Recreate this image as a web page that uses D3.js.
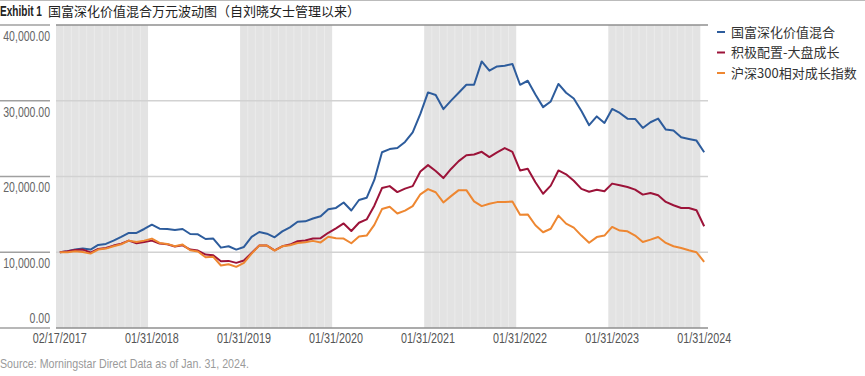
<!DOCTYPE html>
<html>
<head>
<meta charset="utf-8">
<script src="https://cdn.jsdelivr.net/npm/d3@7"></script>
<style>
  body { margin: 0; background: #fff; }
  svg { display: block; }
  text { font-family: "Liberation Sans", Arial, "Noto Sans CJK SC", sans-serif; }
</style>
</head>
<body>
<svg width="865" height="376"></svg>
<script>
const width = 865;
const height = 376;

// Dates: start date, then month ends Feb 2017 .. Jan 2024
const dates = [new Date(2017, 1, 17)].concat(
  d3.timeMonth.range(new Date(2017, 1, 1), new Date(2024, 1, 1))
    .map(d => d3.timeDay.offset(d3.timeMonth.offset(d, 1), -1))
);

const seriesNames = ["国富深化价值混合", "积极配置-大盘成长", "沪深300相对成长指数"];
const seriesColors = ["#2d5c9c", "#9c1339", "#ee8731"];

// 国富深化价值混合
const fundValues = [10000, 10130, 10350, 10480, 10350, 10965, 11100, 11535, 12020, 12545, 12545, 13070,
  13640, 13115, 13070, 12940, 13070, 12410, 12370, 11750, 11800, 10610, 10790, 10350,
  10700, 12020, 12675, 12455, 11975, 12760, 13290, 14035, 14080, 14460, 14750, 15690,
  15850, 16570, 15510, 16900, 17190, 19550, 23200, 23620, 23750, 24560, 25840, 28260,
  31100, 30750, 28900, 30020, 31050, 32110, 32110, 35190, 33980, 34530, 34620, 34860,
  32110, 32640, 30830, 29160, 29910, 32220, 31060, 30290, 28640, 26770, 27930, 27070,
  28920, 28390, 27640, 27600, 26410, 27160, 27640, 26190, 26060, 25180, 24960, 24740,
  23200];

// 积极配置-大盘成长
const categoryValues = [10000, 10130, 10310, 10350, 9960, 10440, 10570, 10880, 11140, 11535, 11180, 11360,
  11535, 11140, 11050, 10750, 10920, 10350, 10220, 9690, 9600, 8820, 8860, 8600,
  8900, 9910, 10880, 10880, 10260, 10790, 11010, 11450, 11540, 11820, 11860, 12570,
  13160, 13800, 12800, 13890, 14330, 16150, 18470, 18730, 17940, 18400, 18730, 20670,
  21500, 20730, 19790, 21000, 22030, 22800, 22910, 23260, 22560, 23180, 23750, 23260,
  20800, 21020, 19240, 17720, 18800, 20800, 20290, 19440, 18360, 17980, 18250, 18050,
  19060, 18840, 18620, 18270, 17610, 17830, 17520, 16640, 16200, 15850, 15850, 15540,
  13430];

// 沪深300相对成长指数
const indexValues = [10000, 10000, 10130, 10040, 9820, 10350, 10480, 10790, 11050, 11535, 11360, 11535,
  11800, 11230, 11100, 10790, 11010, 10260, 10090, 9340, 9390, 8250, 8420, 8070,
  8600, 9820, 10880, 10880, 10220, 10790, 10920, 11230, 11320, 11500, 11300, 12040,
  11850, 11800, 11190, 12070, 12200, 13610, 15700, 16000, 15120, 15500, 16090, 17650,
  18340, 17920, 16580, 17410, 18200, 18200, 16710, 16090, 16400, 16620, 16620, 16710,
  14950, 14990, 13560, 12640, 13100, 14840, 13780, 13250, 12200, 11250, 12000, 12200,
  13340, 12860, 12770, 12200, 11360, 11670, 12020, 11230, 10790, 10570, 10260, 10000,
  8720];

const yTicks = [0, 10000, 20000, 30000, 40000];
const xTickIdx = [0, 12, 24, 36, 48, 60, 72, 84];
const shadedStarts = [0, 24, 48, 72];

const svg = d3.select("svg");

// squeeze latin text to look like a narrow face
function condense(sel, k) {
  sel.each(function() {
    const w = this.getComputedTextLength();
    d3.select(this).attr("textLength", w * k).attr("lengthAdjust", "spacingAndGlyphs");
  });
}

const x = d3.scaleBand().domain(d3.range(dates.length)).range([56, 708]);
const bw = x.bandwidth();
const y = d3.scaleLinear().domain([0, 40000]).range([328, 25]);

// top rule
svg.append("line")
  .attr("x1", 0).attr("x2", width).attr("y1", 0.5).attr("y2", 0.5)
  .attr("stroke", "#bbb").attr("stroke-width", 1);

// Title ("Exhibit 1" squeezed with a transform so its box stays narrow)
const exhibit = svg.append("text")
  .attr("x", 0).attr("y", 16)
  .attr("font-weight", "bold").attr("font-size", 15).attr("fill", "#222")
  .text("Exhibit 1");
const exW = exhibit.node().getComputedTextLength();
exhibit.attr("transform", `scale(${42 / exW},1)`);
svg.append("text")
  .attr("x", 48).attr("y", 16)
  .attr("font-size", 13).attr("fill", "#222")
  .style("font-family", "'Noto Sans CJK SC', sans-serif")
  .text("国富深化价值混合万元波动图（自刘晓女士管理以来）");

// Shaded years
const bands = svg.append("g");
shadedStarts.forEach(s => {
  bands.append("rect")
    .attr("x", x(s)).attr("y", y(40000))
    .attr("width", bw * 12).attr("height", y(0) - y(40000))
    .attr("fill", "#e3e3e3");
  d3.range(s + 1, s + 12).forEach(i => {
    bands.append("line")
      .attr("x1", x(i)).attr("x2", x(i))
      .attr("y1", y(40000)).attr("y2", y(0))
      .attr("stroke", "#ebebeb").attr("stroke-width", 1);
  });
});

// Gridlines
svg.append("g")
  .selectAll("line")
  .data(yTicks)
  .enter()
  .append("line")
  .attr("x1", 56).attr("x2", 708)
  .attr("y1", d => y(d)).attr("y2", d => y(d))
  .attr("stroke", d => (d === 0 || d === 40000) ? "#8f8f8f" : "#d2d2d2")
  .attr("stroke-width", 1.6);

// short rules next to the y labels
svg.append("g")
  .selectAll("line")
  .data(yTicks)
  .enter()
  .append("line")
  .attr("x1", 0).attr("x2", 50)
  .attr("y1", d => y(d)).attr("y2", d => y(d))
  .attr("stroke", "#a0a0a0")
  .attr("stroke-width", 1.6);

// Y axis labels
const yAxis = svg.append("g")
  .attr("transform", "translate(50,0)")
  .call(d3.axisLeft(y).tickValues(yTicks).tickFormat(d3.format(",.2f")).tickSize(0).tickPadding(0));
yAxis.select(".domain").remove();
yAxis.selectAll("text")
  .attr("font-size", 14)
  .attr("fill", "#666")
  .attr("dy", d => d === 0 ? "-0.4em" : "1.1em")
  .call(condense, 0.75);

// X axis labels
const fmt = d3.timeFormat("%m/%d/%Y");
const xAxis = svg.append("g")
  .attr("transform", "translate(0,328)")
  .call(d3.axisBottom(x).tickValues(xTickIdx).tickFormat(i => fmt(dates[i])).tickSize(0).tickPadding(5));
xAxis.select(".domain").remove();
xAxis.selectAll("text").attr("font-size", 14).attr("fill", "#555").call(condense, 0.77);

// Lines
const line = d3.line()
  .x((d, i) => x(i) + bw / 2)
  .y(d => y(d));

[fundValues, categoryValues, indexValues].forEach((vals, k) => {
  svg.append("path")
    .datum(vals)
    .attr("d", line)
    .attr("fill", "none")
    .attr("stroke", seriesColors[k])
    .attr("stroke-width", 2)
    .attr("stroke-linejoin", "round");
});

// Legend
const legend = svg.append("g");
seriesNames.forEach((name, k) => {
  const ly = 32 + k * 20.5;
  legend.append("line")
    .attr("x1", 717).attr("x2", 725)
    .attr("y1", ly).attr("y2", ly)
    .attr("stroke", seriesColors[k]).attr("stroke-width", 2);
  legend.append("text")
    .attr("x", 731).attr("y", ly).attr("dy", "0.35em")
    .attr("font-size", 13).attr("fill", "#333")
    .style("font-family", "'Noto Sans CJK SC', sans-serif")
    .text(name);
});

// Source
svg.append("text")
  .attr("x", 0).attr("y", 368)
  .attr("font-size", 13).attr("fill", "#9a9a9a")
  .text("Source: Morningstar Direct Data as of Jan. 31, 2024.")
  .call(condense, 0.82);
</script>
</body>
</html>
